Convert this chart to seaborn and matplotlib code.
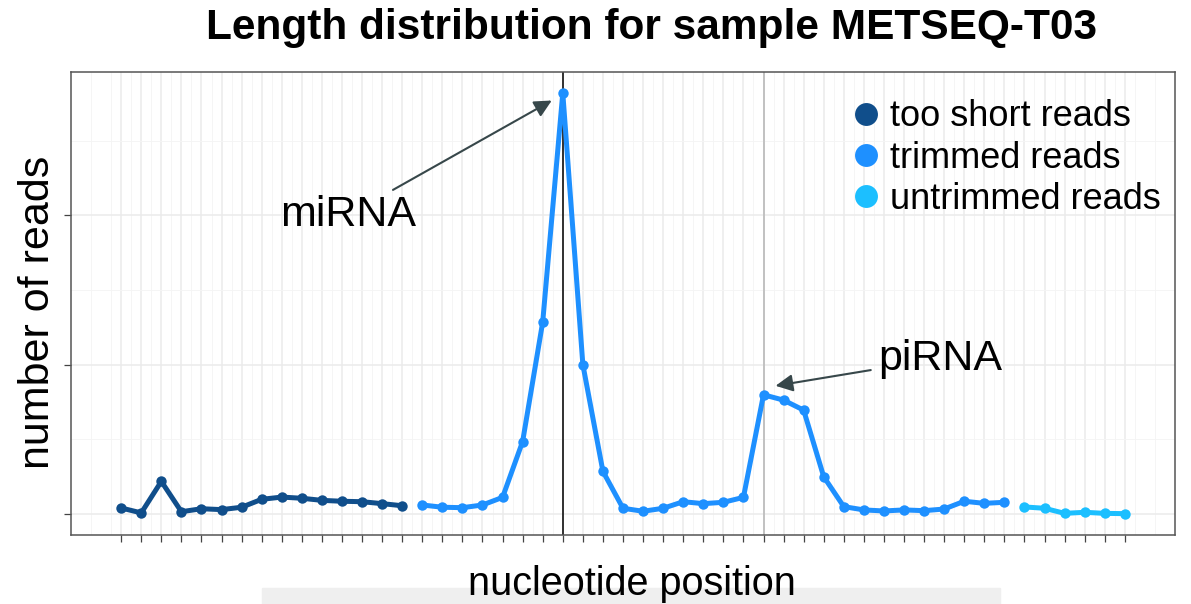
import numpy as np
import pandas as pd
import seaborn as sns
import matplotlib.pyplot as plt
from matplotlib.lines import Line2D
from matplotlib.patches import Rectangle

# read lengths (nt) and counts (in 100k reads) per read class
short_pos = list(range(0, 15))
short_reads = [0.04, 0.007, 0.218, 0.015, 0.035, 0.029, 0.045, 0.098, 0.113, 0.105,
               0.091, 0.085, 0.082, 0.069, 0.055]
trimmed_pos = list(range(15, 45))
trimmed_reads = [0.06, 0.045, 0.042, 0.06, 0.111, 0.485, 1.285, 2.818, 1.0, 0.285,
                 0.038, 0.018, 0.038, 0.082, 0.069, 0.078, 0.111, 0.798, 0.762, 0.695,
                 0.249, 0.049, 0.027, 0.02, 0.027, 0.022, 0.033, 0.085, 0.071, 0.078]
untrimmed_pos = list(range(45, 51))
untrimmed_reads = [0.047, 0.038, 0.004, 0.011, 0.004, 0.002]

labels = ['too short reads', 'trimmed reads', 'untrimmed reads']
colors = ['#104E8B', '#1E90FF', '#1CBFFF']
mirna_peak = 22
pirna_peak = 32

df = pd.concat([
    pd.DataFrame({'pos': short_pos, 'reads': short_reads, 'type': labels[0]}),
    pd.DataFrame({'pos': trimmed_pos, 'reads': trimmed_reads, 'type': labels[1]}),
    pd.DataFrame({'pos': untrimmed_pos, 'reads': untrimmed_reads, 'type': labels[2]}),
])

sns.set_style('white')
plt.rcParams['font.family'] = ['Liberation Sans', 'DejaVu Sans']
plt.rcParams['text.color'] = 'black'
plt.rcParams['axes.labelcolor'] = 'black'

fig = plt.figure(figsize=(11.91, 6.04), dpi=100)
ax = fig.add_axes([71 / 1191, 1 - 535 / 604, (1175 - 71) / 1191, (535 - 72) / 604])

sns.lineplot(data=df, x='pos', y='reads', hue='type', palette=dict(zip(labels, colors)),
             marker='o', markersize=7.5, markeredgewidth=0, linewidth=3.6,
             legend=False, ax=ax, zorder=3)

ax.axvline(mirna_peak, color='#222222', lw=1.3, zorder=2)
ax.axvline(pirna_peak, color='#BEBEBE', lw=1.3, zorder=2)

ax.set_xlim(-2.5, 52.5)
ymax = max(trimmed_reads)
ax.set_ylim(-0.05 * ymax, ymax * 1.05)
ax.set_xticks(np.arange(0, 51, 1))
ax.set_xticks(np.arange(-2, 52.6, 1) + 0.5, minor=True)
ax.set_yticks([0, 1, 2])
ax.set_yticks([0.5, 1.5, 2.5], minor=True)
ax.set_xticklabels([])
ax.set_yticklabels([])
ax.grid(which='major', color='#EBEBEB', lw=1.1, zorder=0)
ax.grid(which='minor', color='#F4F4F4', lw=0.6, zorder=0)
ax.tick_params(which='major', length=5, width=0.9, color='#444444', bottom=True, left=True)
ax.tick_params(which='minor', length=0)
for s in ax.spines.values():
    s.set_color('#555555')
    s.set_linewidth(1.1)

ax.set_xlabel('nucleotide position', fontsize=28.5)
ax.xaxis.set_label_coords(0.508, -0.106)
ax.xaxis.label.set_va('center')
ax.set_ylabel('number of reads', fontsize=31)
ax.yaxis.set_label_coords(-0.030, 0.48)
ax.yaxis.label.set_va('center')
fig.suptitle('Length distribution for sample METSEQ-T03', fontsize=30.5, fontweight='bold',
             x=651 / 1191, y=1 - 28 / 604, va='center')

arrow = dict(arrowstyle='-|>', color='#37474A', lw=1.5, mutation_scale=26,
             shrinkA=3, shrinkB=0)
ax.annotate('miRNA', xy=(mirna_peak - 0.55, trimmed_reads[mirna_peak - 15] - 0.05),
            xytext=(11.3, 2.0), fontsize=31, ha='center', va='center', arrowprops=arrow)
ax.annotate('piRNA', xy=(pirna_peak + 0.6, trimmed_reads[pirna_peak - 15] + 0.06),
            xytext=(40.8, 1.04), fontsize=31, ha='center', va='center', arrowprops=arrow)

handles = [Line2D([], [], marker='o', ls='', color=c, markersize=16.5, markeredgewidth=0)
           for c in colors]
ax.legend(handles, labels, loc='upper right', frameon=False, fontsize=26,
          handletextpad=-0.35, labelspacing=0.17, borderaxespad=0.0,
          bbox_to_anchor=(1.0, 0.972))

fig.patches.append(Rectangle((262 / 1191, 0), (1000 - 262) / 1191, 16 / 604,
                             transform=fig.transFigure, color='#EFEFEF', zorder=-1))

fig.savefig('out.png', dpi=100)
